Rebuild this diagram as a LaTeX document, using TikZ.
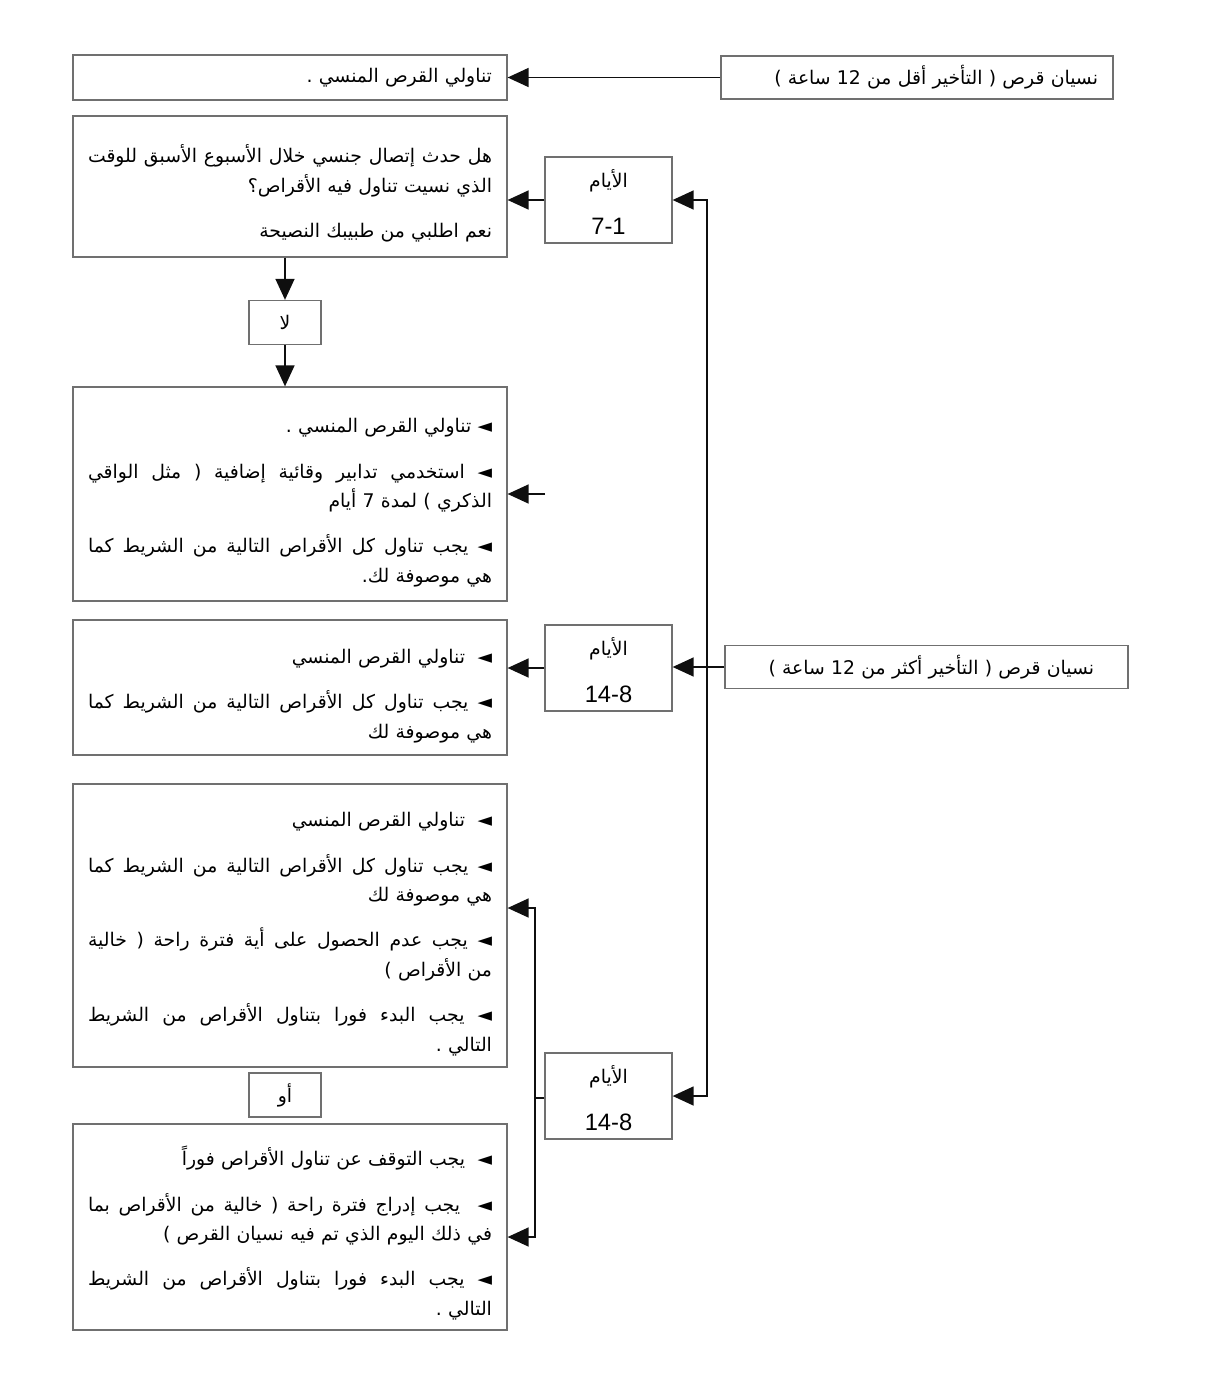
\documentclass[tikz,border=0pt]{standalone}
\usepackage{fontspec}
\setmainfont{Liberation Sans}
\newfontfamily\arabicfont[Script=Arabic]{DejaVu Sans}
\TeXXeTstate=1
\usetikzlibrary{
  arrows.meta,
  positioning,
  calc
}
\definecolor{xframe}{RGB}{112,112,112}
\definecolor{xline}{RGB}{15,15,15}
\newlength\tw
\setlength\tw{8.08cm}
\newcommand\rl[1]{{\arabicfont\beginR #1\endR}}
% justified line: spaces get the stretch
\newcommand\jl[1]{\leavevmode\hbox to \tw{\arabicfont
  \spaceskip=\fontdimen2\font plus 1fil\relax\xspaceskip=\spaceskip
  \beginR #1\endR}}
\newcommand\lnum[1]{\beginL #1\endL{}}
\newcommand\topgap{\rule{0pt}{18pt}}

\begin{document}
\begin{tikzpicture}[x=0.02cm, y=-0.02cm,
  box/.style={draw=xframe, line width=0.75pt, fill=white, inner ysep=0pt,
              font=\fontsize{10.7pt}{16.8pt}\selectfont},
  wide/.style={box, minimum width=8.68cm, inner xsep=0.3cm, text width=\tw, align=right},
  days/.style={box, minimum width=2.54cm, minimum height=1.72cm, align=center},
  tag/.style={box, minimum width=1.44cm, minimum height=0.88cm},
  arr/.style={-{Triangle[length=0.42cm, width=0.38cm]}, draw=xline, line width=0.85pt},
  link/.style={draw=xline, line width=0.85pt}
]
  \useasboundingbox (0,0) rectangle (1212,1399);

  % less than 12 hours
  \node[wide, minimum height=0.9cm] (take1) at (290,77.5) {\rl{تناولي القرص المنسي .}};
  \node[box, minimum width=7.84cm, minimum height=0.86cm, inner xsep=0.3cm,
        text width=7.24cm, align=right] (less12) at (917,77.5)
        {\rl{نسيان قرص ( التأخير أقل من \lnum{12} ساعة )}};

  % more than 12 hours
  \node[box, minimum width=8.06cm, minimum height=0.86cm, inner xsep=0.68cm,
        text width=6.7cm, align=right] (more12) at (926.5,667)
        {\rl{نسيان قرص ( التأخير أكثر من \lnum{12} ساعة )}};

  \node[days] (days1) at (608.5,200) {\rl{\rule{0pt}{13pt}الأيام}\\[10pt]{\fontsize{13.5pt}{16pt}\selectfont 7-1}};
  \node[days] (days2) at (608.5,668) {\rl{\rule{0pt}{13pt}الأيام}\\[10pt]{\fontsize{13.5pt}{16pt}\selectfont 14-8}};
  \node[days] (days3) at (608.5,1096) {\rl{\rule{0pt}{13pt}الأيام}\\[10pt]{\fontsize{13.5pt}{16pt}\selectfont 14-8}};

  \node[wide, minimum height=2.82cm] (quest) at (290,186.5)
    {\jl{هل حدث إتصال جنسي خلال الأسبوع الأسبق للوقت}\topgap\\
     \rl{الذي نسيت تناول فيه الأقراص؟}\\[9pt]
     \rl{نعم اطلبي من طبيبك النصيحة}};
  \node[tag] (no) at (285,322.5) {\rl{لا}};
  \node[wide, minimum height=4.28cm] (act1) at (290,494)
    {\rl{\topgap◄ تناولي القرص المنسي .}\\[9pt]
     \jl{◄ استخدمي تدابير وقائية إضافية ( مثل الواقي}\\
     \rl{الذكري ) لمدة 7 أيام}\\[9pt]
     \jl{◄ يجب تناول كل الأقراص التالية من الشريط كما}\\
     \rl{هي موصوفة لك.}};

  \node[wide, minimum height=2.7cm] (act2) at (290,687.5)
    {\rl{\topgap◄ \ تناولي القرص المنسي}\\[9pt]
     \jl{◄ يجب تناول كل الأقراص التالية من الشريط كما}\\
     \rl{هي موصوفة لك}};

  \node[wide, minimum height=5.66cm] (act3) at (290,925.5)
    {\rl{\topgap◄ \ تناولي القرص المنسي}\\[9pt]
     \jl{◄ يجب تناول كل الأقراص التالية من الشريط كما}\\
     \rl{هي موصوفة لك}\\[9pt]
     \jl{◄ يجب عدم الحصول على أية فترة راحة ( خالية}\\
     \rl{من الأقراص )}\\[9pt]
     \jl{◄ يجب البدء فورا بتناول الأقراص من الشريط}\\
     \rl{التالي .}};
  \node[tag] (or) at (285,1095) {\rl{أو}};
  \node[wide, minimum height=4.12cm] (act4) at (290,1227)
    {\rl{\topgap◄ \ يجب التوقف عن تناول الأقراص فوراً}\\[9pt]
     \jl{◄ \ يجب إدراج فترة راحة ( خالية من الأقراص بما}\\
     \rl{في ذلك اليوم الذي تم فيه نسيان القرص )}\\[9pt]
     \jl{◄ يجب البدء فورا بتناول الأقراص من الشريط}\\
     \rl{التالي .}};

  % connectors
  \draw[arr] (less12) -- (take1);
  \draw[arr] (days1) -- (quest.east |- days1);
  \draw[arr] (quest.south -| no) -- (no);
  \draw[arr] (no) -- (act1.north -| no);
  \coordinate (in1) at (545,494);
  \draw[arr] (in1) -- (act1);
  \draw[arr] (days2) -- (act2.east |- days2);
  \draw[arr] (more12) -- (days2.east |- more12);
  \coordinate (jn) at (707,667);
  \draw[arr] (jn) |- (days1);
  \draw[arr] (jn) |- (days3);
  \coordinate (br) at (535,1098);
  \draw[link] (days3.west |- br) -- (br);
  \draw[arr] (br) |- ($(act3.east)+(0,-17.5)$);
  \draw[arr] (br) |- ($(act4.east)+(0,10)$);
\end{tikzpicture}
\end{document}
